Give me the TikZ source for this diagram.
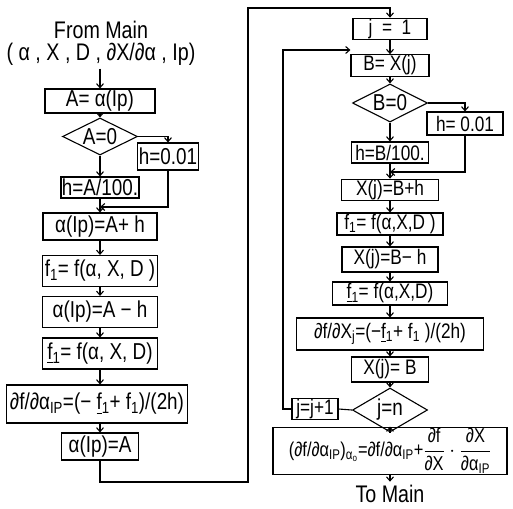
\documentclass[tikz,border=0pt]{standalone}
\usepackage{amsmath}
\usepackage{fontspec}
\setmainfont{Liberation Sans}[FakeStretch=0.82]
\usetikzlibrary{arrows.meta,shapes.geometric}

\tikzset{
  boxsize/.style 2 args={minimum width=#1pt,minimum height=#2pt},
  box/.style={draw,line width=1.1pt,inner sep=1pt,font=\fontsize{23}{25}\selectfont},
  boxr/.style={box,font=\fontsize{21}{23}\selectfont},
  cond/.style={draw,diamond,aspect=2,inner sep=0pt,line width=1.1pt,font=\fontsize{23}{25}\selectfont},
  flow/.style={line width=1.1pt,-{Straight Barb[length=4pt,width=7pt]}},
  plain/.style={line width=1.1pt},
}

\begin{document}
\begin{tikzpicture}[x=1pt,y=-1pt]
  \useasboundingbox (0,0) rectangle (513,508);
  % left column: derivative with respect to alpha(Ip)
  \node[align=center,font=\fontsize{24}{22}\selectfont] (fromMain) at (101,43) {From Main\\( α , X , D , ∂X/∂α , Ip)};
  \node[box,boxsize={110}{24}] (aA) at (100,101) {A= α(Ip)};
  \node[cond,boxsize={75}{37}] (dA) at (100,136.5) {A=0};
  \node[box,boxsize={51}{27}] (hA1) at (168,156.5) {h=0.01};
  \node[box,boxsize={73}{21}] (hA2) at (100,187.5) {h=A/100.};
  \coordinate (jA) at (100,207);
  \node[box,boxsize={114}{27}] (aPlus) at (100,226.5) {α(Ip)=A+ h};
  \node[box,boxsize={115}{31}] (fPlus) at (100,271) {f\textsubscript{1}= f(α, X, D )};
  \node[box,boxsize={115}{31}] (aMinus) at (100,312) {α(Ip)=A − h};
  \node[box,boxsize={115}{31}] (fMinus) at (100,353.5) {\underline{f}\textsubscript{1}= f(α, X, D)};
  \node[box,boxsize={181}{38}] (dfa) at (97,404) {∂f/∂α\textsubscript{IP}=(− \underline{f}\textsubscript{1}+ f\textsubscript{1})/(2h)};
  \node[box,boxsize={77}{27}] (aReset) at (100,446.5) {α(Ip)=A};
  \coordinate (loopA) at (248,482);
  \coordinate (loopB) at (248,8);

  \draw[flow] (fromMain.south -| aA) -- (aA);
  \draw[flow] (aA) -- (dA);
  \draw[flow] (dA.east) -| (hA1.north);
  \draw[flow] (dA) -- (hA2);
  \draw[flow] (hA2) -- (aPlus);
  \draw[flow] (hA1.south) |- (jA);
  \draw[flow] (aPlus) -- (fPlus);
  \draw[flow] (fPlus) -- (aMinus);
  \draw[flow] (aMinus) -- (fMinus);
  \draw[flow] (fMinus) -- (fMinus |- dfa.north);
  \draw[flow] (dfa.south -| aReset) -- (aReset);

  % right column: loop over j
  \node[boxr,boxsize={74}{18}] (jOne) at (390,29) {j \ = \ 1};
  \node[boxr,boxsize={78}{21}] (bX) at (390,65.5) {B= X(j)};
  \node[cond,boxsize={75}{38}] (dB) at (390,103) {B=0};
  \node[boxr,boxsize={76}{23}] (hB1) at (465,123.5) {h= 0.01};
  \node[boxr,boxsize={77}{21}] (hB2) at (390,152.5) {h=B/100.};
  \coordinate (jB) at (390,172);
  \node[boxr,boxsize={97}{20}] (xPlus) at (390,190) {X(j)=B+h};
  \node[boxr,boxsize={106}{22}] (fPlusX) at (390,224) {f\textsubscript{1}= f(α,X,D )};
  \node[boxr,boxsize={96}{25}] (xMinus) at (390,259.5) {X(j)=B− h};
  \node[boxr,boxsize={115}{23}] (fMinusX) at (390,293.5) {\underline{f}\textsubscript{1}= f(α,X,D)};
  \node[boxr,boxsize={187}{32}] (dfx) at (390,334) {∂f/∂X\textsubscript{j}=(−\underline{f}\textsubscript{1}+ f\textsubscript{1} )/(2h)};
  \node[boxr,boxsize={77}{25}] (xReset) at (390,369.5) {X(j)= B};
  \node[cond,boxsize={75}{44}] (dJ) at (390,410) {j=n};
  \node[boxr,boxsize={46}{18}] (jInc) at (315,409) {j=j+1};
  \node[box,boxsize={234}{35},font=\fontsize{20}{22}\selectfont] (dfTot) at (390,451)
    {(∂f/∂α\textsubscript{IP})\textsubscript{α\textsubscript{o}}=∂f/∂α\textsubscript{IP}+$\dfrac{\text{∂f}}{\text{∂X}}\cdot\dfrac{\text{∂X}}{\text{∂α\textsubscript{IP}}}$};
  \node[font=\fontsize{24}{26}\selectfont] (toMain) at (390,494) {To Main};
  \coordinate (loopC) at (283,50);

  \draw[flow] (aReset.south) -- (aReset |- loopA) -| (loopB) -| (jOne.north);
  \draw[flow] (jOne) -- (bX);
  \draw[flow] (bX) -- (dB);
  \draw[flow] (dB.east) -| (hB1.north);
  \draw[flow] (dB) -- (hB2);
  \draw[flow] (hB2) -- (xPlus);
  \draw[flow] (hB1.south) |- (jB);
  \draw[flow] (xPlus) -- (fPlusX);
  \draw[flow] (fPlusX) -- (xMinus);
  \draw[flow] (xMinus) -- (fMinusX);
  \draw[flow] (fMinusX) -- (dfx);
  \draw[flow] (dfx) -- (xReset);
  \draw[flow] (xReset) -- (dJ);
  \draw[plain] (dJ.west) -- (jInc.east);
  \draw[flow] (jInc.west) -| (loopC) -- (loopC -| bX.west);
  \draw[flow] (dJ.south) -- (dfTot.north);
  \draw[flow] (dfTot) -- (toMain);
\end{tikzpicture}
\end{document}
